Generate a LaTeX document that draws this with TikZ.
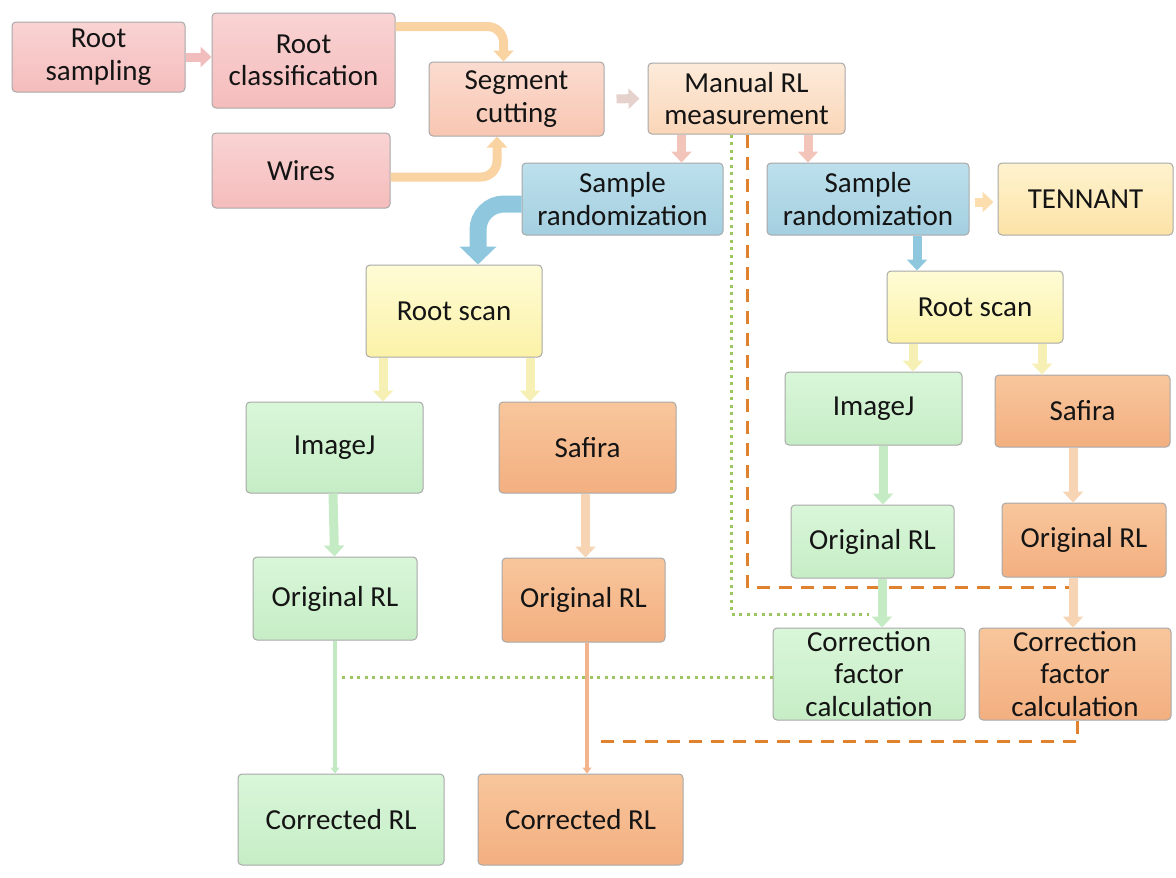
\documentclass[tikz,border=0pt]{standalone}
\usepackage{fontspec}
\setmainfont{Carlito}
\usetikzlibrary{arrows.meta,calc}
\definecolor{bordergray}{HTML}{A8A8A8}
\definecolor{pinkT}{HTML}{F9D3D3}\definecolor{pinkB}{HTML}{F5BCBC}
\definecolor{segT}{HTML}{FBDCD0}\definecolor{segB}{HTML}{F8C6B2}
\definecolor{manT}{HTML}{FDEBDA}\definecolor{manB}{HTML}{FAD6B8}
\definecolor{bluT}{HTML}{BDE0EC}\definecolor{bluB}{HTML}{A4CFE0}
\definecolor{tenT}{HTML}{FEF3CF}\definecolor{tenB}{HTML}{FCE3A6}
\definecolor{scnT}{HTML}{FEFCD6}\definecolor{scnB}{HTML}{FCF2A8}
\definecolor{grnT}{HTML}{D9F6D9}\definecolor{grnB}{HTML}{C6EDC6}
\definecolor{orgT}{HTML}{F8C69C}\definecolor{orgB}{HTML}{F3AF80}
\definecolor{aPink}{HTML}{F2BDBD}
\definecolor{aOrange}{HTML}{FAD3A2}
\definecolor{aGrey}{HTML}{E6D2CC}
\definecolor{aSalmon}{HTML}{F3C4BA}
\definecolor{aTen}{HTML}{FBDDAE}
\definecolor{aBlue}{HTML}{8FC7DE}
\definecolor{aYellow}{HTML}{F6F0B4}
\definecolor{aGreen}{HTML}{C4EBC4}
\definecolor{aLOrange}{HTML}{F6D4B4}
\definecolor{thinOrange}{HTML}{F2B48C}
\definecolor{thinGreen}{HTML}{C2EAC2}
\definecolor{dotGreen}{HTML}{9DC55E}
\definecolor{dashOrange}{HTML}{E0812E}
\definecolor{txt}{HTML}{141414}
\tikzset{
  box/.style={draw=bordergray, line width=1pt, rounded corners=4pt, align=center,
    inner sep=0pt, text=txt, font=\fontsize{29}{32.5}\selectfont},
  pinkbox/.style={box, top color=pinkT, bottom color=pinkB},
  segbox/.style={box, top color=segT, bottom color=segB},
  manbox/.style={box, top color=manT, bottom color=manB},
  bluebox/.style={box, top color=bluT, bottom color=bluB},
  tenbox/.style={box, top color=tenT, bottom color=tenB},
  scanbox/.style={box, top color=scnT, bottom color=scnB},
  greenbox/.style={box, top color=grnT, bottom color=grnB},
  orangebox/.style={box, top color=orgT, bottom color=orgB},
  fat/.style={line width=9pt, -{Triangle[width=20pt,length=11pt]}},
  fatbig/.style={line width=17pt, -{Triangle[width=36pt,length=18pt]}, rounded corners=26pt},
  thin/.style={line width=3.5pt, -{Triangle[width=9pt,length=6pt]}},
  greendot/.style={draw=dotGreen, line width=3pt, dash pattern=on 3pt off 4.5pt},
  orangedash/.style={draw=dashOrange, line width=3pt, dash pattern=on 13pt off 9pt}
}
\begin{document}
\begin{tikzpicture}[x=1pt,y=-1pt]
\useasboundingbox (0,0) rectangle (1176,878);
% nodes
\node[pinkbox, minimum width=173pt, minimum height=70pt] (samp) at (98.5,57) {Root\\sampling};
\node[pinkbox, minimum width=183pt, minimum height=95pt] (class) at (303.5,60.5) {Root\\classification};
\node[pinkbox, minimum width=178pt, minimum height=75pt] (wires) at (301,170.5) {Wires};
\node[segbox, minimum width=175pt, minimum height=74pt] (seg) at (516.5,99) {Segment\\cutting};
\node[manbox, minimum width=197pt, minimum height=71pt] (manual) at (746.5,98.5) {Manual RL\\measurement};
\node[bluebox, minimum width=201pt, minimum height=72pt] (srL) at (622.5,199) {Sample\\randomization};
\node[bluebox, minimum width=202pt, minimum height=72pt] (srR) at (868,199) {Sample\\randomization};
\node[tenbox, minimum width=175pt, minimum height=72pt] (tenn) at (1085.5,199) {TENNANT};
\node[scanbox, minimum width=176pt, minimum height=92pt] (rsL) at (454,311) {Root scan};
\node[scanbox, minimum width=176pt, minimum height=72pt] (rsR) at (975,307) {Root scan};
\node[greenbox, minimum width=177pt, minimum height=91pt] (ijL) at (334.5,447.5) {ImageJ};
\node[orangebox, minimum width=177pt, minimum height=91pt] (sfL) at (587.5,447.5) {Safira};
\node[greenbox, minimum width=177pt, minimum height=73pt] (ijR) at (873.5,408.5) {ImageJ};
\node[orangebox, minimum width=175pt, minimum height=72pt] (sfR) at (1082.5,411) {Safira};
\node[greenbox, minimum width=164pt, minimum height=83pt] (orLg) at (335,598.5) {Original RL};
\node[orangebox, minimum width=163pt, minimum height=84pt] (orLo) at (583.5,600) {Original RL};
\node[greenbox, minimum width=163pt, minimum height=73pt] (orRg) at (872.5,541.5) {Original RL};
\node[orangebox, minimum width=164pt, minimum height=74pt] (orRo) at (1084,540) {Original RL};
\node[greenbox, minimum width=192pt, minimum height=92pt] (cfg) at (869,674) {Correction\\factor\\calculation};
\node[orangebox, minimum width=192pt, minimum height=92pt] (cfo) at (1075,674) {Correction\\factor\\calculation};
\node[greenbox, minimum width=206pt, minimum height=91pt] (crg) at (341,819.5) {Corrected RL};
\node[orangebox, minimum width=205pt, minimum height=91pt] (cro) at (580.5,819.5) {Corrected RL};
% dotted / dashed reference lines
\coordinate (dotA) at ($(manual.south)+(-15,0)$);
\coordinate (dotB) at ($(cfg.north)+(0,-13)$);
\draw[greendot] (dotA) |- (dotB);
\draw[greendot] ($(cfg.west)+(0,3)$) -- ($(orLg.south |- cfg.west)+(6,3)$);
\coordinate (dashA) at ($(manual.south)+(1,0)$);
\coordinate (dashB) at ($(cfo.north)+(-5,-40)$);
\draw[orangedash] (dashA) |- (dashB);
\coordinate (dashC) at ($(cro.north)+(18,-32)$);
\draw[orangedash] ($(cfo.south)+(2,0)$) |- (dashC);
% connectors
\draw[fat, draw=aPink] (samp.east) -- (class.west |- samp.east);
\draw[fat, draw=aOrange, rounded corners=16pt] ($(class.north east)+(0,14)$) -| ($(seg.north)+(-13,0)$);
\draw[fat, draw=aOrange, rounded corners=16pt] ($(wires.east)+(0,6.5)$) -| ($(seg.south)+(-19.5,0)$);
\draw[fat, draw=aGrey, shorten <=12pt, shorten >=8pt] (seg.east) -- (manual.west);
\draw[fat, draw=aSalmon] ($(manual.south)+(-65,0)$) -- ($(srL.north -| manual.south)+(-65,0)$);
\draw[fat, draw=aSalmon] ($(manual.south)+(61.5,0)$) -- ($(srR.north -| manual.south)+(61.5,0)$);
\draw[fat, draw=aTen, shorten <=5pt, shorten >=4pt] ($(srR.east)+(0,3)$) -- ($(tenn.west)+(0,3)$);
\draw[fatbig, draw=aBlue] ($(srL.west)+(0,5)$) -| ($(rsL.north)+(24,0)$);
\draw[fat, draw=aBlue] ($(srR.south)+(49,0)$) -- ($(rsR.north)+(-58,0)$);
\draw[fat, draw=aYellow] ($(rsL.south)+(-71,0)$) -- ($(ijL.north)+(48.5,0)$);
\draw[fat, draw=aYellow] ($(rsL.south)+(76,0)$) -- ($(sfL.north)+(-57.5,0)$);
\draw[fat, draw=aYellow] ($(rsR.south)+(-62,0)$) -- ($(ijR.north)+(39.5,0)$);
\draw[fat, draw=aYellow] ($(rsR.south)+(67,0)$) -- ($(sfR.north)+(-40.5,0)$);
\draw[fat, draw=aGreen] ($(ijL.south)+(-1.5,0)$) -- (orLg.north -| ijL.south);
\draw[fat, draw=aLOrange] ($(sfL.south)+(-2,0)$) -- ($(orLo.north)+(2,0)$);
\draw[fat, draw=aGreen] ($(ijR.south)+(9.5,0)$) -- ($(orRg.north)+(10.5,0)$);
\draw[fat, draw=aLOrange] ($(sfR.south)+(-9.5,0)$) -- ($(orRo.north)+(-11,0)$);
\draw[fat, draw=aGreen] ($(orRg.south)+(9.5,0)$) -- ($(cfg.north)+(13,0)$);
\draw[fat, draw=aLOrange] ($(orRo.south)+(-11,0)$) -- ($(cfo.north)+(-2,0)$);
\draw[thin, draw=thinGreen] (orLg.south) -- (crg.north -| orLg.south);
\draw[thin, draw=thinOrange] ($(orLo.south)+(3.5,0)$) -- ($(cro.north)+(6.5,0)$);
\end{tikzpicture}
\end{document}
